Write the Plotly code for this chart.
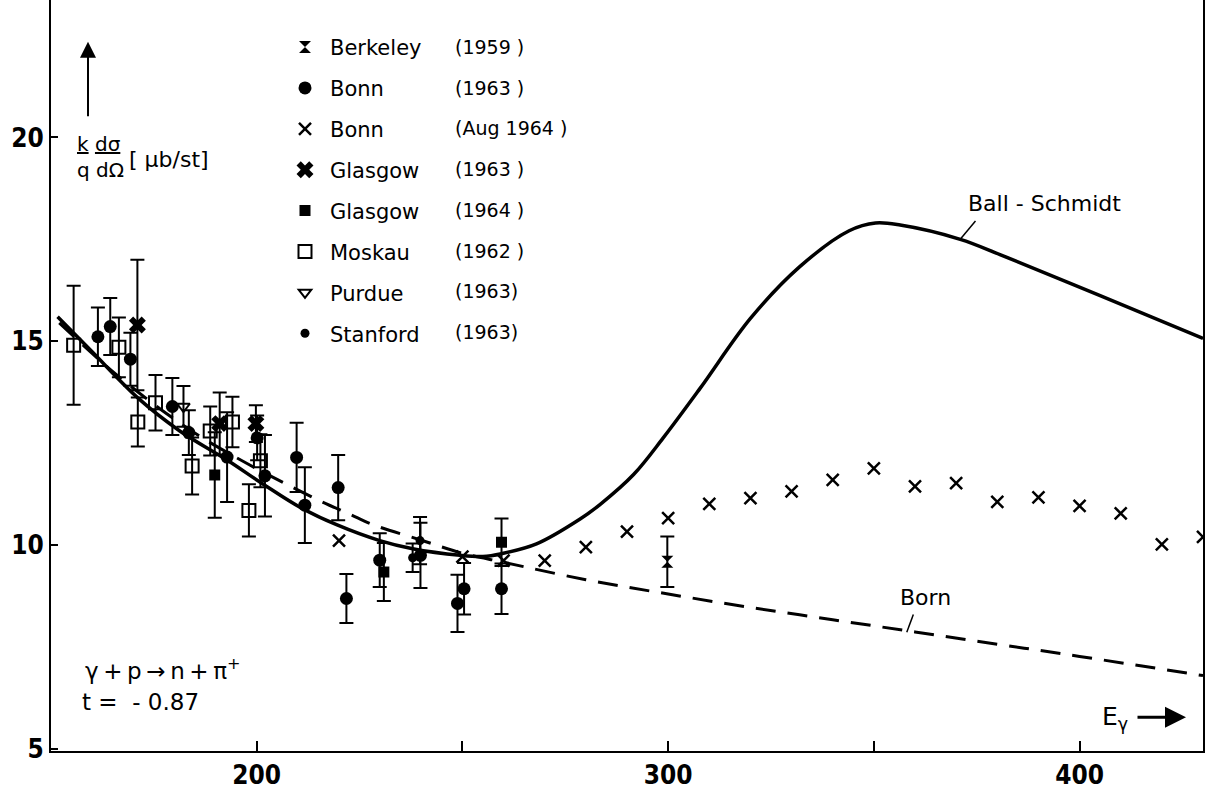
import plotly.graph_objects as go

# ---- model curves: k/q dsigma/dOmega (mub/sr) vs photon energy (MeV) ----
ball_schmidt_e = [151.6, 160, 171.1, 181.3, 192.6, 201.5, 210.5, 219.4, 229.9, 237.9,
                  249.4, 255, 259.5, 268, 278.6, 283.5, 291.6, 298.8, 307.8, 320,
                  332, 344, 350.4, 356.4, 371, 380.8, 405, 430]
ball_schmidt_v = [15.6, 14.74, 13.61, 12.8, 12.1, 11.5, 10.93, 10.5, 10.11, 9.91,
                  9.75, 9.72, 9.79, 10.03, 10.64, 11.0, 11.73, 12.63, 13.85, 15.56,
                  16.83, 17.71, 17.9, 17.85, 17.5, 17.12, 16.12, 15.07]

born_e = [152, 160, 165.9, 177.2, 186, 195, 204, 215.3, 222.6, 228.3, 240, 250,
          260, 280, 300, 320, 340, 360, 380, 400, 430]
born_v = [15.45, 14.7, 14.18, 13.29, 12.68, 12.15, 11.66, 11.09, 10.76, 10.5, 10.12, 9.8,
          9.58, 9.15, 8.8, 8.47, 8.17, 7.87, 7.57, 7.27, 6.8]

# ---- measurements ----
berkeley59_e = [299.8]
berkeley59_v = [9.59]
berkeley59_err = [0.62]

bonn63_e = [161.4, 164.4, 169.3, 179.5, 183.5, 192.8, 200.1, 202.0, 209.7, 211.7,
            219.8, 221.8, 229.9, 239.8, 248.8, 250.4, 259.5]
bonn63_v = [15.11, 15.36, 14.56, 13.40, 12.76, 12.16, 12.63, 11.70, 12.15, 10.98,
            11.41, 8.69, 9.63, 9.75, 8.57, 8.93, 8.93]
bonn63_err = [0.72, 0.70, 0.65, 0.70, 0.55, 1.10, 0.55, 1.00, 0.85, 0.93,
              0.80, 0.60, 0.66, 0.80, 0.70, 0.63, 0.62]

bonn64_e = [220, 250, 260, 270, 280, 290, 300, 310, 320, 330, 340, 350, 360, 370,
            380, 390, 400, 410, 420, 430]
bonn64_v = [10.11, 9.72, 9.62, 9.62, 9.95, 10.33, 10.66, 11.01, 11.15, 11.32, 11.60,
            11.88, 11.44, 11.52, 11.06, 11.17, 10.96, 10.78, 10.02, 10.20]

glasgow63_e = [171.0, 191.0, 199.8]
glasgow63_v = [15.40, 12.98, 12.98]
glasgow63_err = [1.60, 0.76, 0.45]

glasgow64_e = [189.8, 230.9, 259.5]
glasgow64_v = [11.72, 9.34, 10.07]
glasgow64_err = [1.05, 0.71, 0.58]

moskau62_e = [155.5, 166.5, 171.1, 175.4, 184.3, 188.7, 194.1, 198.1, 200.9]
moskau62_v = [14.90, 14.85, 13.02, 13.49, 11.94, 12.80, 13.02, 10.85, 12.07]
moskau62_err = [1.46, 0.73, 0.60, 0.68, 0.70, 0.60, 0.62, 0.64, 0.65]

purdue63_e = [182.2]
purdue63_v = [13.40]
purdue63_err = [0.50]

stanford63_e = [237.9, 239.7]
stanford63_v = [9.69, 10.11]
stanford63_err = [0.35, 0.58]

legend_years = ["(1959 )", "(1963 )", "(Aug 1964 )", "(1963 )",
                "(1964 )", "(1962 )", "(1963)", "(1963)"]

x_ticks = [200, 250, 300, 350, 400]
x_tick_text = ["200", "", "300", "", "400"]
y_ticks = [5, 10, 15, 20]
y_tick_text = ["5", "10", "15", "20"]

# ---- page geometry ----
W, H = 1206, 790
ML, MR, MT, MB = 51, 3, 0, 35
PW, PH = W - ML - MR, H - MT - MB

TEXT_FONT = "DejaVu Sans"
NUM_FONT = "DejaVu Sans Condensed, DejaVu Sans, sans-serif"


def px(xp, yp):
    """pixel position on the page -> paper coordinates"""
    return (xp - ML) / PW, 1 - (yp - MT) / PH


fig = go.Figure()

fig.add_trace(go.Scatter(x=born_e, y=born_v, mode="lines", showlegend=False,
                         line=dict(color="black", width=3, dash="20px,12px", shape="spline")))
fig.add_trace(go.Scatter(x=ball_schmidt_e, y=ball_schmidt_v, mode="lines", showlegend=False,
                         line=dict(color="black", width=3.5, shape="spline")))


def err(a):
    return dict(type="data", array=a, visible=True, color="black", thickness=2, width=7)


series = [
    ("Berkeley", berkeley59_e, berkeley59_v, berkeley59_err,
     dict(symbol="hourglass", size=12, color="black")),
    ("Bonn", bonn63_e, bonn63_v, bonn63_err,
     dict(symbol="circle", size=13, color="black")),
    ("Bonn", bonn64_e, bonn64_v, None,
     dict(symbol="x-thin-open", size=12, color="black", line=dict(width=2.5, color="black"))),
    ("Glasgow", glasgow63_e, glasgow63_v, glasgow63_err,
     dict(symbol="x", size=15, color="black")),
    ("Glasgow", glasgow64_e, glasgow64_v, glasgow64_err,
     dict(symbol="square", size=11, color="black")),
    ("Moskau", moskau62_e, moskau62_v, moskau62_err,
     dict(symbol="square-open", size=13, color="black", line=dict(width=2, color="black"))),
    ("Purdue", purdue63_e, purdue63_v, purdue63_err,
     dict(symbol="triangle-down-open", size=11, color="black", line=dict(width=2, color="black"))),
    ("Stanford", stanford63_e, stanford63_v, stanford63_err,
     dict(symbol="circle", size=9, color="black")),
]

for i, (name, xs, ys, es, mk) in enumerate(series):
    fig.add_trace(go.Scatter(
        x=xs, y=ys, mode="markers", name=name, legendgroup=f"g{i}",
        marker=mk, error_y=err(es) if es is not None else None,
    ))

annotations = []

# years column beside the legend
row_y = [47, 88, 129, 170, 211, 252, 293, 334]
for yr, ry in zip(legend_years, row_y):
    ax_, ay_ = px(453, ry)
    annotations.append(dict(xref="paper", yref="paper", x=ax_, y=ay_, text=yr,
                            showarrow=False, xanchor="left", yanchor="middle",
                            font=dict(family=TEXT_FONT, size=19, color="black")))

# curve labels
annotations += [
    dict(x=391.5, y=18.37, text="Ball - Schmidt", showarrow=False,
         font=dict(family=TEXT_FONT, size=22, color="black")),
    dict(x=362.6, y=8.71, text="Born", showarrow=False,
         font=dict(family=TEXT_FONT, size=22, color="black")),
]

# leader lines from the labels to their curves
shapes = [
    dict(type="line", xref="x", yref="y", x0=371, y0=17.5, x1=374.7, y1=17.95,
         line=dict(color="black", width=1.5)),
    dict(type="line", xref="x", yref="y", x0=358, y0=7.86, x1=359.6, y1=8.3,
         line=dict(color="black", width=1.5)),
]

# axis quantity and upward arrow
xa, ya = px(88, 42)
annotations.append(dict(xref="paper", yref="paper", x=xa, y=ya, ax=0, ay=76, text="",
                        showarrow=True, arrowhead=2, arrowsize=1.6, arrowwidth=2,
                        arrowcolor="black"))
xa, ya = px(75, 158)
annotations.append(dict(xref="paper", yref="paper", x=xa, y=ya, xanchor="left",
                        yanchor="middle", showarrow=False, align="left",
                        text="<u>k</u> <u>dσ</u><br>q dΩ",
                        font=dict(family=TEXT_FONT, size=20, color="black")))
xa, ya = px(127, 160)
annotations.append(dict(xref="paper", yref="paper", x=xa, y=ya, xanchor="left",
                        yanchor="middle", showarrow=False, text="[ μb/st]",
                        font=dict(family=TEXT_FONT, size=22, color="black")))

# reaction and momentum transfer
xa, ya = px(83, 673)
annotations.append(dict(xref="paper", yref="paper", x=xa, y=ya, xanchor="left",
                        yanchor="middle", showarrow=False,
                        text="γ\u2009+\u2009p\u2009→\u2009n\u2009+\u2009π<sup>+</sup>",
                        font=dict(family=TEXT_FONT, size=23, color="black")))
xa, ya = px(80, 706)
annotations.append(dict(xref="paper", yref="paper", x=xa, y=ya, xanchor="left",
                        yanchor="middle", showarrow=False, text="t =  - 0.87",
                        font=dict(family=TEXT_FONT, size=23, color="black")))

# energy axis caption
xa, ya = px(1100, 722)
annotations.append(dict(xref="paper", yref="paper", x=xa, y=ya, xanchor="left",
                        yanchor="middle", showarrow=False, text="E<sub>γ</sub>",
                        font=dict(family=TEXT_FONT, size=25, color="black")))
xa, ya = px(1186, 721)
annotations.append(dict(xref="paper", yref="paper", x=xa, y=ya, ax=-50, ay=0, text="",
                        showarrow=True, arrowhead=2, arrowsize=1.4, arrowwidth=3,
                        arrowcolor="black"))

lx, ly = px(280, 27)

fig.update_layout(
    width=W, height=H,
    margin=dict(l=ML, r=MR, t=MT, b=MB),
    paper_bgcolor="white", plot_bgcolor="white",
    showlegend=True,
    legend=dict(x=lx, y=ly, xanchor="left", yanchor="top", bgcolor="rgba(0,0,0,0)",
                font=dict(family=TEXT_FONT, size=21, color="black"),
                tracegroupgap=10.6, traceorder="grouped", itemwidth=40),
    annotations=annotations,
    shapes=shapes,
    xaxis=dict(range=[150, 430], showline=True, linewidth=2, linecolor="black",
               ticks="inside", ticklen=10, tickwidth=2, tickcolor="black",
               tickvals=x_ticks, ticktext=x_tick_text, showgrid=False, zeroline=False,
               tickfont=dict(family=NUM_FONT, size=26, color="black", weight="bold")),
    yaxis=dict(range=[4.95, 23.37], showline=True, mirror=True, linewidth=2,
               linecolor="black", ticks="inside", ticklen=7, tickwidth=2,
               tickcolor="black", tickvals=y_ticks, ticktext=y_tick_text,
               showgrid=False, zeroline=False,
               tickfont=dict(family=NUM_FONT, size=26, color="black", weight="bold")),
)

fig.write_html("out.html")
